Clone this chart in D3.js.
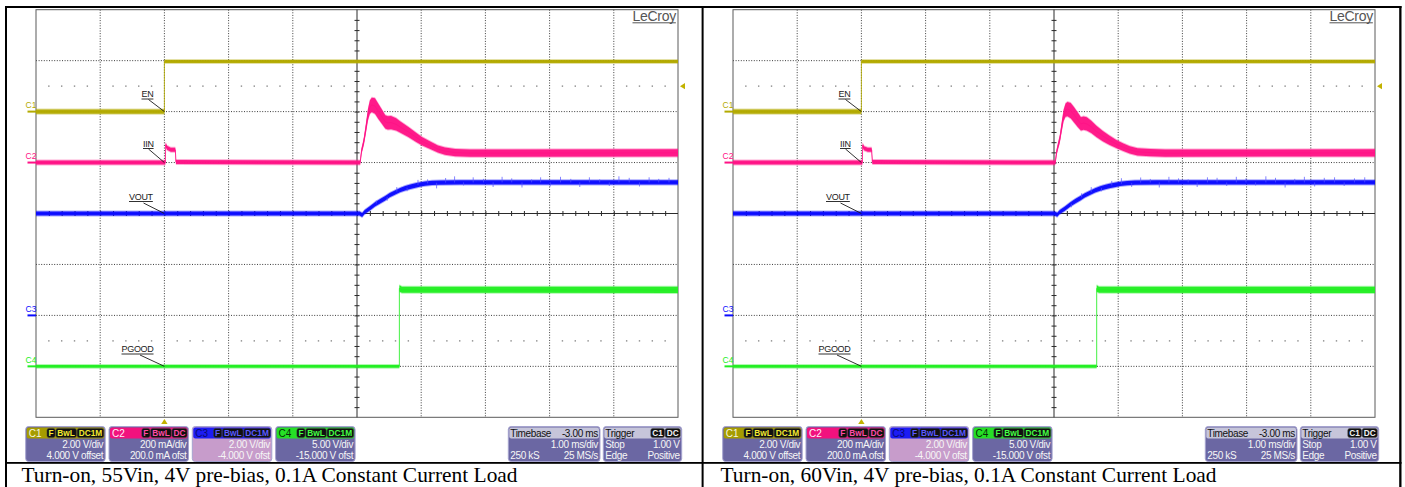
<!DOCTYPE html>
<html>
<head>
<meta charset="utf-8">
<title>Turn-on waveforms</title>
<script src="https://cdn.jsdelivr.net/npm/d3@7"></script>
<style>
  html, body { margin: 0; padding: 0; background: #ffffff; }
  svg { display: block; }
  text { font-family: "Liberation Sans", Arial, sans-serif; }
  text.caption { font-family: "Liberation Serif", "Times New Roman", serif; }
</style>
</head>
<body>
<svg id="chart" width="1405" height="487"></svg>
<script>
// ---------------- scope settings (shared by both captures) ----------------
const channelNames  = ["C1", "C2", "C3", "C4"];
const traceNames    = ["EN", "IIN", "VOUT", "PGOOD"];
const unitsPerDiv   = [2, 0.2, 2, 5];          // V/div (C2 in A/div)
const channelOffset = [4, 0.2, -4, -15];       // V (C2 in A)
const scaleText     = ["2.00 V/div", "200 mA/div", "2.00 V/div", "5.00 V/div"];
const offsetText    = ["4.000 V offset", "200.0 mA ofst", "-4.000 V ofst", "-15.000 V ofst"];
const couplingTags  = [["F", "BwL", "DC1M"], ["F", "BwL", "DC"], ["F", "BwL", "DC1M"], ["F", "BwL", "DC1M"]];
const timeWindowMs  = [-2, 8];                 // 1.00 ms/div, trigger at 0 ms
const timebaseText  = ["Timebase", "-3.00 ms", "1.00 ms/div", "250 kS", "25 MS/s"];
const triggerText   = ["Trigger", "Stop", "1.00 V", "Edge", "Positive"];
const triggerTags   = ["C1", "DC"];
const triggerLevelV = 1.0;                     // on C1
const guideLevelC4  = 2.5;                     // dotted guide on C4
const captions = [
  "Turn-on, 55Vin, 4V pre-bias, 0.1A Constant Current Load",
  "Turn-on, 60Vin, 4V pre-bias, 0.1A Constant Current Load"
];

// ---------------- EN (C1), volts ----------------
const enTime    = [-2, 0, 0, 8];
const enVolts55 = [0, 0, 1.97, 1.97];
const enVolts60 = [0, 0, 1.97, 1.97];
const enSpread  = [0.08, 0.08, 0.06, 0.06];

// ---------------- IIN (C2), amps ----------------
const iinTime55 = [-2, 0.015, 0.02, 0.04, 0.10, 0.17, 0.18,
  3.05, 3.07, 3.09, 3.11, 3.14, 3.17, 3.20, 3.23, 3.28, 3.33, 3.39, 3.44, 3.48,
  3.53, 3.61, 3.67, 3.80, 3.91, 4.01, 4.14, 4.26, 4.37, 4.53, 4.76, 8];
const iinAmps55 = [0, 0, 0.07, 0.058, 0.05, 0.05, 0.002,
  0, 0.045, 0.065, 0.088, 0.136, 0.187, 0.218, 0.226, 0.222, 0.202, 0.179, 0.160, 0.156,
  0.157, 0.150, 0.140, 0.120, 0.101, 0.084, 0.068, 0.053, 0.045, 0.039, 0.037, 0.038];
const iinTime60 = [-2, 0.015, 0.02, 0.04, 0.10, 0.16, 0.17,
  3.02, 3.04, 3.06, 3.09, 3.12, 3.15, 3.18, 3.21, 3.26, 3.31, 3.37, 3.42, 3.46,
  3.51, 3.58, 3.66, 3.76, 3.86, 3.97, 4.08, 4.18, 4.30, 4.50, 4.73, 8];
const iinAmps60 = [0, 0, 0.068, 0.056, 0.05, 0.05, 0.002,
  0, 0.040, 0.062, 0.092, 0.140, 0.185, 0.206, 0.210, 0.204, 0.188, 0.168, 0.152, 0.155,
  0.152, 0.140, 0.122, 0.104, 0.088, 0.073, 0.060, 0.050, 0.042, 0.039, 0.037, 0.038];
const iinSpread = [0.008, 0.008, 0.009, 0.008, 0.008, 0.008, 0.008,
  0.008, 0.010, 0.012, 0.014, 0.018, 0.022, 0.026, 0.028, 0.030, 0.030, 0.028, 0.026, 0.026,
  0.026, 0.024, 0.022, 0.020, 0.018, 0.016, 0.015, 0.014, 0.014, 0.014, 0.014, 0.014];

// ---------------- VOUT (C3), volts ----------------
const voutTime55  = [-2, 3.04, 3.08, 3.12, 3.20, 3.28, 3.36, 3.44, 3.51, 3.59, 3.67, 3.75, 3.83, 3.91, 3.99, 4.06, 4.17, 4.29, 4.6, 8];
const voutVolts55 = [4.0, 4.0, 3.94, 4.06, 4.2, 4.36, 4.48, 4.6, 4.72, 4.82, 4.92, 4.99, 5.05, 5.1, 5.14, 5.17, 5.2, 5.21, 5.22, 5.22];
const voutTime60  = [-2, 3.01, 3.05, 3.09, 3.17, 3.25, 3.33, 3.41, 3.48, 3.56, 3.64, 3.72, 3.80, 3.88, 3.96, 4.03, 4.14, 4.26, 4.6, 8];
const voutVolts60 = [4.0, 4.0, 3.95, 4.06, 4.19, 4.35, 4.48, 4.6, 4.71, 4.81, 4.91, 4.98, 5.04, 5.09, 5.13, 5.16, 5.19, 5.21, 5.22, 5.22];
const voutSpread  = [0.075, 0.075, 0.075, 0.08, 0.085, 0.085, 0.085, 0.085, 0.085, 0.085, 0.085, 0.085, 0.085, 0.085, 0.085, 0.085, 0.085, 0.085, 0.085, 0.085];
const voutSpikeTime55  = [3.30, 3.47, 3.62, 3.78, 3.95, 4.10, 4.24, 4.38, 4.52, 4.66, 4.81, 4.97, 5.12, 5.26, 5.41, 5.57,
  5.72, 5.86, 6.01, 6.17, 6.33, 6.47, 6.62, 6.78, 6.93, 7.08, 7.24, 7.40, 7.55, 7.70, 7.86];
const voutSpikeDelta55 = [0.12, -0.15, 0.18, -0.14, 0.2, 0.16, -0.22, 0.18, 0.24, -0.12, 0.2, 0.14, -0.18, 0.22, 0.16, -0.2,
  0.12, 0.2, -0.16, 0.22, 0.14, -0.18, 0.2, 0.12, -0.14, 0.24, 0.18, -0.16, 0.2, 0.14, 0.18];
const voutSpikeTime60  = [3.27, 3.43, 3.58, 3.74, 3.90, 4.05, 4.21, 4.35, 4.50, 4.64, 4.79, 4.94, 5.09, 5.23, 5.39, 5.54,
  5.69, 5.84, 5.99, 6.14, 6.30, 6.45, 6.60, 6.75, 6.90, 7.06, 7.21, 7.37, 7.52, 7.68, 7.84];
const voutSpikeDelta60 = [-0.14, 0.16, 0.2, -0.12, 0.18, 0.22, -0.16, 0.2, 0.14, -0.2, 0.22, 0.16, 0.12, -0.18, 0.2, 0.18,
  -0.14, 0.22, 0.16, -0.12, 0.24, 0.18, -0.2, 0.14, 0.22, -0.16, 0.18, 0.2, -0.14, 0.16, 0.2];

// ---------------- PGOOD (C4), volts ----------------
const pgTime55   = [-2, 3.66, 3.66, 3.70, 8];
const pgVolts55  = [0, 0, 7.65, 7.52, 7.5];
const pgTime60   = [-2, 3.665, 3.665, 3.70, 8];
const pgVolts60  = [0, 0, 7.65, 7.52, 7.5];
const pgSpread   = [0.14, 0.14, 0.3, 0.3, 0.3];

// ---------------- colours ----------------
const traceColor  = ["#b3aa00", "#ff1286", "#0c0cff", "#22ee22"];
const headerColor = ["#a59c00", "#f2127e", "#1c1cf4", "#26e026"];
const tagTextColor = ["#f2ea30", "#ff4aa6", "#5a5aff", "#44ff44"];
const headerTextColor = ["#f6f6e0", "#fff0f8", "#0a0a70", "#063006"];
const bodyColor   = ["#6b67a3", "#6b67a3", "#c79ccb", "#6b67a3"];

const panels = [
  { caption: captions[0], en: enVolts55, iinT: iinTime55, iin: iinAmps55, voutT: voutTime55, vout: voutVolts55,
    spikeT: voutSpikeTime55, spikeD: voutSpikeDelta55, pgT: pgTime55, pg: pgVolts55 },
  { caption: captions[1], en: enVolts60, iinT: iinTime60, iin: iinAmps60, voutT: voutTime60, vout: voutVolts60,
    spikeT: voutSpikeTime60, spikeD: voutSpikeDelta60, pgT: pgTime60, pg: pgVolts60 }
];

// ---------------- layout ----------------
const svg = d3.select("#chart");
const gx0 = 36, gx1 = 678, gy0 = 9.7, gy1 = 417.3;
const panelShift = [0, 697];
const captionX = [21.5, 23.5];

const x = d3.scaleLinear().domain(timeWindowMs).range([gx0, gx1]);
const divY = d3.scaleLinear().domain([0, 8]).range([gy0, gy1]);
const chanY = channelNames.map((c, i) => d3.scaleLinear()
  .domain([-channelOffset[i] - 4 * unitsPerDiv[i], -channelOffset[i] + 4 * unitsPerDiv[i]])
  .range([gy1, gy0]));
const cx = x(3), cy = divY(4);

// table rules around and between the two captures
const rules = svg.append("g").attr("fill", "#000");
rules.append("rect").attr("x", 5).attr("y", 6).attr("width", 1396.5).attr("height", 2);
rules.append("rect").attr("x", 5).attr("y", 6).attr("width", 2).attr("height", 481);
rules.append("rect").attr("x", 701.6).attr("y", 6).attr("width", 2).attr("height", 481);
rules.append("rect").attr("x", 1399.2).attr("y", 6).attr("width", 2.3).attr("height", 481);
rules.append("rect").attr("x", 5).attr("y", 462).attr("width", 1396.5).attr("height", 1.8);

function drawGrid(g) {
  const grid = g.append("g");
  // dotted divisions
  d3.range(-1, 8).filter(t => t !== 3).forEach(t => {
    grid.append("line").attr("x1", x(t)).attr("x2", x(t)).attr("y1", gy0).attr("y2", gy1)
      .attr("stroke", "#3c3c3c").attr("stroke-width", 1).attr("stroke-dasharray", "1,1.6");
  });
  d3.range(1, 8).filter(d => d !== 4).forEach(d => {
    grid.append("line").attr("x1", gx0).attr("x2", gx1).attr("y1", divY(d)).attr("y2", divY(d))
      .attr("stroke", "#3c3c3c").attr("stroke-width", 1).attr("stroke-dasharray", "1,1.6");
  });
  // dotted guide rows at the trigger level and the C4 guide
  const minor = d3.range(0, 50).map(k => timeWindowMs[0] + k * 0.2).filter((t, k) => k % 5 !== 0);
  [chanY[0](triggerLevelV), chanY[3](guideLevelC4)].forEach(yy => {
    grid.selectAll(null).data(minor).enter().append("rect")
      .attr("x", t => x(t) - 0.7).attr("y", yy - 0.7).attr("width", 1.4).attr("height", 1.4)
      .attr("fill", "#8a8a8a");
  });
  // frame
  grid.append("rect").attr("x", gx0).attr("y", gy0).attr("width", gx1 - gx0).attr("height", gy1 - gy0)
    .attr("fill", "none").attr("stroke", "#5a5a5a").attr("stroke-width", 1);
  // centre cross-hair with minor ticks
  grid.append("line").attr("x1", gx0).attr("x2", gx1).attr("y1", cy).attr("y2", cy).attr("stroke", "#2a2a2a");
  grid.append("line").attr("x1", cx).attr("x2", cx).attr("y1", gy0).attr("y2", gy1).attr("stroke", "#2a2a2a");
  const hTicks = d3.range(1, 50).map(k => timeWindowMs[0] + k * 0.2);
  const ax = grid.append("g").attr("transform", `translate(0,${cy - 2.5})`)
    .call(d3.axisBottom(x).tickValues(hTicks).tickSize(5).tickFormat(""));
  ax.select(".domain").remove();
  ax.selectAll("line").attr("stroke", "#2a2a2a");
  const vTicks = d3.range(1, 40).map(k => k * 0.2);
  const ay = grid.append("g").attr("transform", `translate(${cx - 2.5},0)`)
    .call(d3.axisRight(divY).tickValues(vTicks).tickSize(5).tickFormat(""));
  ay.select(".domain").remove();
  ay.selectAll("line").attr("stroke", "#2a2a2a");
}

function drawTrace(g, times, values, spread, ch) {
  const y = chanY[ch];
  const color = traceColor[ch];
  const idx = d3.range(times.length);
  const haze = d3.area().x(i => x(times[i]))
    .y0(i => y(values[i] - spread[i]) + 1).y1(i => y(values[i] + spread[i]) - 1);
  const core = d3.area().x(i => x(times[i]))
    .y0(i => y(values[i] - spread[i])).y1(i => y(values[i] + spread[i]));
  const edge = d3.line().x(i => x(times[i])).y(i => y(values[i]));
  g.append("path").datum(idx).attr("d", haze).attr("fill", color).attr("opacity", 0.35);
  g.append("path").datum(idx).attr("d", core).attr("fill", color).attr("opacity", 0.95);
  g.append("path").datum(idx).attr("d", edge).attr("fill", "none")
    .attr("stroke", color).attr("stroke-width", 1).attr("opacity", 0.85);
}

function drawSpikes(g, p) {
  const base = d3.scaleLinear().domain(p.voutT).range(p.vout);
  g.selectAll(null).data(d3.range(p.spikeT.length)).enter().append("line")
    .attr("x1", i => x(p.spikeT[i])).attr("x2", i => x(p.spikeT[i]))
    .attr("y1", i => chanY[2](base(p.spikeT[i])))
    .attr("y2", i => chanY[2](base(p.spikeT[i]) + p.spikeD[i]))
    .attr("stroke", "#5252ff").attr("stroke-width", 1).attr("opacity", 0.7);
}

function drawAnnotations(g, p) {
  // channel ground markers on the left
  const zeroVal = [0, 0, 0, 0];
  channelNames.forEach((name, i) => {
    const yz = chanY[i](zeroVal[i]);
    g.append("text").attr("x", 25.5).attr("y", yz - 3.8).attr("font-size", 8.5)
      .attr("fill", traceColor[i]).text(name);
    g.append("line").attr("x1", 27.5).attr("x2", gx0).attr("y1", yz).attr("y2", yz)
      .attr("stroke", traceColor[i]).attr("stroke-width", 2);
  });
  // trace names with leaders to the trigger instant
  const labelBox = [
    { x: 141.5, y: 97,   lx: 148.5, ly: 99.5 },
    { x: 143,   y: 146.5, lx: 148.5, ly: 149 },
    { x: 129,   y: 199.5, lx: 143.5, ly: 203 },
    { x: 121.5, y: 352,  lx: 140,   ly: 355 }
  ];
  const atTrigger = [p.en[0], p.iin[0], p.vout[0], p.pg[0]];
  traceNames.forEach((name, i) => {
    const lb = labelBox[i];
    const t = g.append("text").attr("x", lb.x).attr("y", lb.y).attr("font-size", 9)
      .attr("letter-spacing", -0.3).attr("fill", "#1a1a1a").text(name);
    const w = t.node().getComputedTextLength();
    g.append("line").attr("x1", lb.x).attr("x2", lb.x + w).attr("y1", lb.y + 2).attr("y2", lb.y + 2)
      .attr("stroke", "#1a1a1a").attr("stroke-width", 0.9);
    g.append("line").attr("x1", lb.lx).attr("y1", lb.ly).attr("x2", x(0)).attr("y2", chanY[i](atTrigger[i]))
      .attr("stroke", "#1a1a1a").attr("stroke-width", 0.9);
  });
  // brand mark
  const brand = g.append("text").attr("x", 632.5).attr("y", 20.5).attr("font-size", 14)
    .attr("fill", "#555").attr("letter-spacing", -0.3).text("LeCroy");
  const bw = brand.node().getComputedTextLength();
  g.append("line").attr("x1", 632.5).attr("x2", 632.5 + bw).attr("y1", 22.8).attr("y2", 22.8)
    .attr("stroke", "#555").attr("stroke-width", 1);
  // trigger position (bottom) and trigger level (right)
  const tx = x(0), ty = chanY[0](triggerLevelV);
  g.append("path").attr("d", `M${tx},${gy1 + 1.6} L${tx + 3.2},${gy1 + 6.6} L${tx - 3.2},${gy1 + 6.6} Z`)
    .attr("fill", "#c2b200");
  g.append("path").attr("d", `M${gx1 + 2},${ty} L${gx1 + 7},${ty - 3.2} L${gx1 + 7},${ty + 3.2} Z`)
    .attr("fill", "#c2b200");
}

function addTags(g, tags, rightX, topY, textColor) {
  let xr = rightX;
  for (let k = tags.length - 1; k >= 0; k--) {
    const t = g.append("text").attr("y", topY + 7.6).attr("font-size", 8.3).attr("font-weight", "bold")
      .attr("fill", textColor).text(tags[k]);
    const w = t.node().getComputedTextLength() + 3;
    g.insert("rect", () => t.node()).attr("x", xr - w).attr("y", topY).attr("width", w).attr("height", 9.2)
      .attr("rx", 2).attr("fill", "#101010").attr("stroke", "#444").attr("stroke-width", 0.5);
    t.attr("x", xr - w + 1.5);
    xr -= w + 0.8;
  }
}

function drawBox(g, bx, bw, body) {
  const by = 426.5, bh = 35;
  g.append("rect").attr("x", bx).attr("y", by).attr("width", bw).attr("height", bh).attr("rx", 3)
    .attr("fill", body).attr("stroke", "#a5a3cf").attr("stroke-width", 1);
  return by;
}

function boxText(g, tx, ty, str, anchor, color) {
  g.append("text").attr("x", tx).attr("y", ty).attr("font-size", 10).attr("letter-spacing", -0.35)
    .attr("text-anchor", anchor).attr("fill", color).text(str);
}

function drawInfo(g) {
  const headH = 11;
  channelNames.forEach((name, i) => {
    const bx = 25.7 + i * 83.3, bw = 79.5;
    const by = drawBox(g, bx, bw, bodyColor[i]);
    g.append("rect").attr("x", bx + 1).attr("y", by + 1).attr("width", bw - 2).attr("height", headH)
      .attr("rx", 2).attr("fill", headerColor[i]);
    g.append("text").attr("x", bx + 3).attr("y", by + 10).attr("font-size", 10)
      .attr("fill", headerTextColor[i]).text(name);
    addTags(g, couplingTags[i], bx + bw - 1.5, by + 1.9, tagTextColor[i]);
    boxText(g, bx + bw - 2, by + 21, scaleText[i], "end", "#f6f6f6");
    boxText(g, bx + bw - 2, by + 32.5, offsetText[i], "end", "#f6f6f6");
  });
  // timebase
  {
    const bx = 508.3, bw = 91.7;
    const by = drawBox(g, bx, bw, "#6b67a3");
    g.append("rect").attr("x", bx + 1).attr("y", by + 1).attr("width", bw - 2).attr("height", headH)
      .attr("rx", 2).attr("fill", "#c6c5da");
    boxText(g, bx + 2, by + 10, timebaseText[0], "start", "#111");
    boxText(g, bx + bw - 2, by + 10, timebaseText[1], "end", "#111");
    boxText(g, bx + bw - 2, by + 21, timebaseText[2], "end", "#f6f6f6");
    boxText(g, bx + 2, by + 32.5, timebaseText[3], "start", "#f6f6f6");
    boxText(g, bx + bw - 2, by + 32.5, timebaseText[4], "end", "#f6f6f6");
  }
  // trigger
  {
    const bx = 603.3, bw = 78.4;
    const by = drawBox(g, bx, bw, "#6b67a3");
    g.append("rect").attr("x", bx + 1).attr("y", by + 1).attr("width", bw - 2).attr("height", headH)
      .attr("rx", 2).attr("fill", "#c6c5da");
    boxText(g, bx + 2, by + 10, triggerText[0], "start", "#111");
    addTags(g, triggerTags, bx + bw - 1.5, by + 1.9, "#f4f4f4");
    boxText(g, bx + 2, by + 21, triggerText[1], "start", "#f6f6f6");
    boxText(g, bx + bw - 2, by + 21, triggerText[2], "end", "#f6f6f6");
    boxText(g, bx + 2, by + 32.5, triggerText[3], "start", "#f6f6f6");
    boxText(g, bx + bw - 2, by + 32.5, triggerText[4], "end", "#f6f6f6");
  }
}

panels.forEach((p, pi) => {
  const g = svg.append("g").attr("transform", `translate(${panelShift[pi]},0)`);
  drawGrid(g);
  const traces = g.append("g");
  drawTrace(traces, enTime, p.en, enSpread, 0);
  drawTrace(traces, p.iinT, p.iin, iinSpread, 1);
  drawTrace(traces, p.voutT, p.vout, voutSpread, 2);
  drawSpikes(traces, p);
  drawTrace(traces, p.pgT, p.pg, pgSpread, 3);
  drawAnnotations(g, p);
  drawInfo(g);
  g.append("text").attr("class", "caption").attr("x", captionX[pi]).attr("y", 482)
    .attr("font-size", 21.4).attr("fill", "#000").text(p.caption);
});
</script>
</body>
</html>
